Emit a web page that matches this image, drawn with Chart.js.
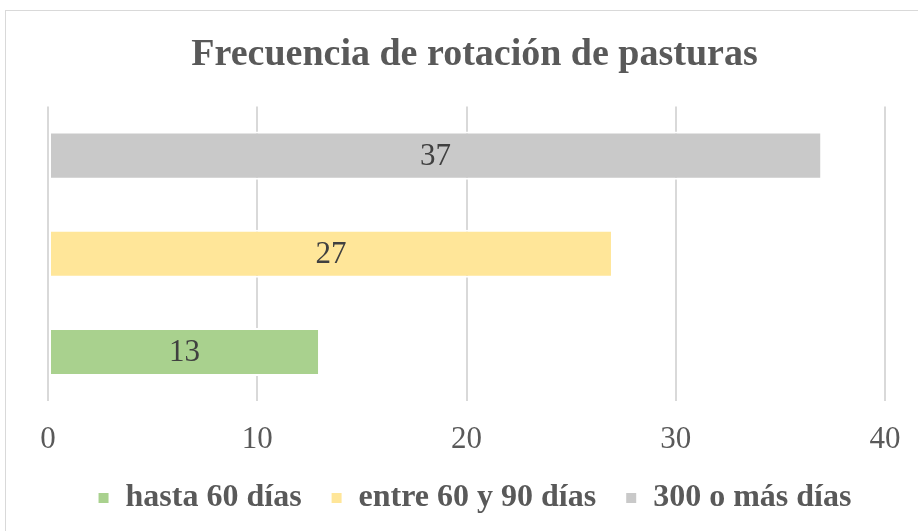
<!DOCTYPE html>
<html>
<head>
<meta charset="utf-8">
<script src="https://cdn.jsdelivr.net/npm/chart.js@4.4.0/dist/chart.umd.min.js"></script>
<style>
    html, body { margin: 0; padding: 0; background: #ffffff; overflow: hidden; }
    #frame {
        position: absolute;
        left: 5px;
        top: 10px;
        width: 945px;
        height: 540px;
        border-top: 1px solid #d9d9d9;
        border-left: 1px solid #d9d9d9;
    }
    #chartBox {
        position: relative;
        width: 945px;
        height: 513px;
    }
</style>
</head>
<body>
<div id="frame"><div id="chartBox"><canvas id="rotacionChart"></canvas></div></div>
<script>
// Data
const categories = [''];
const seriesNames = ['hasta 60 días', 'entre 60 y 90 días', '300 o más días'];
const seriesValues = [13, 27, 37];
const seriesColors = ['#a9d18e', '#ffe699', '#c9c9c9'];
const xTicks = [0, 10, 20, 30, 40];

// Value labels centred in each bar
const barLabels = {
    id: 'barLabels',
    afterDatasetsDraw(chart) {
        const ctx = chart.ctx;
        ctx.save();
        ctx.font = '31px "Liberation Serif"';
        ctx.fillStyle = '#404040';
        ctx.textAlign = 'center';
        ctx.textBaseline = 'middle';
        chart.data.datasets.forEach((ds, i) => {
            chart.getDatasetMeta(i).data.forEach((bar, j) => {
                const p = bar.getProps(['x', 'y', 'base'], true);
                ctx.fillText(String(ds.data[j]), (p.x + p.base) / 2, p.y + 1);
            });
        });
        ctx.restore();
    }
};

// Excel draws the first series at the bottom, so feed them in reverse
const datasets = seriesNames.map((name, i) => ({
    label: name,
    data: [seriesValues[i]],
    backgroundColor: seriesColors[i],
    borderColor: '#ffffff',
    borderWidth: 2,
    borderSkipped: false,
    barPercentage: 0.49,
    categoryPercentage: 1.0
})).reverse();

new Chart(document.getElementById('rotacionChart').getContext('2d'), {
    type: 'bar',
    data: {
        labels: categories,
        datasets: datasets
    },
    options: {
        indexAxis: 'y',
        responsive: true,
        maintainAspectRatio: false,
        animation: false,
        layout: {
            padding: { left: 42, right: 50, top: 0, bottom: 0 }
        },
        plugins: {
            title: {
                display: true,
                text: 'Frecuencia de rotación de pasturas',
                color: '#595959',
                font: { family: 'Liberation Serif', size: 38, weight: 'bold' },
                padding: { top: 21, bottom: 29 }
            },
            legend: {
                position: 'bottom',
                reverse: true,
                labels: {
                    color: '#595959',
                    boxWidth: 12,
                    boxHeight: 12,
                    padding: 29,
                    font: { family: 'Liberation Serif', size: 32, weight: 'bold' }
                }
            },
            tooltip: { enabled: false }
        },
        scales: {
            x: {
                min: 0,
                max: 40,
                afterBuildTicks: (axis) => {
                    axis.ticks = xTicks.map(v => ({ value: v }));
                },
                // trim the bottom tick padding so the legend sits closer
                afterFit: (axis) => { axis.height = 52; },
                grid: {
                    color: '#d9d9d9',
                    lineWidth: 2,
                    drawTicks: false
                },
                border: { display: false },
                ticks: {
                    color: '#595959',
                    padding: 20,
                    font: { family: 'Liberation Serif', size: 31 }
                }
            },
            y: {
                position: 'right',
                grid: { display: false },
                border: { display: false },
                ticks: { display: false },
                afterFit: (axis) => { axis.width = 16; }
            }
        }
    },
    plugins: [barLabels]
});
</script>
</body>
</html>
